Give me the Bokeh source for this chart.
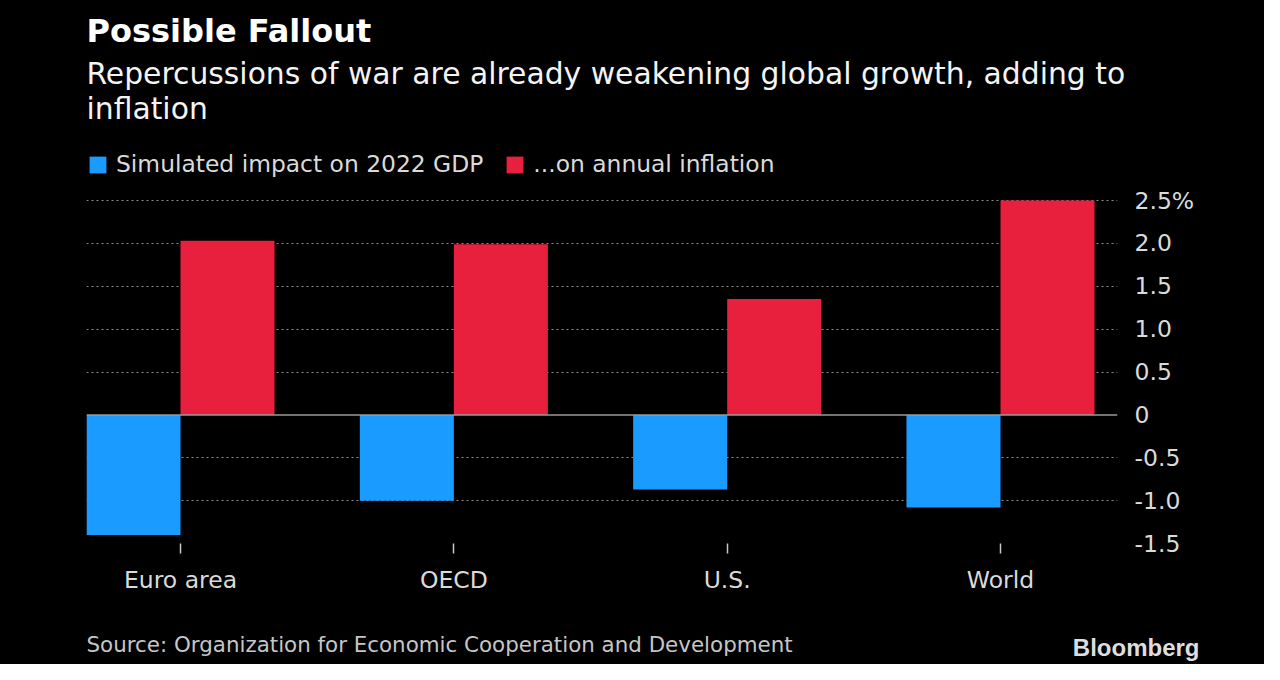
from bokeh.plotting import figure
from bokeh.models import (ColumnDataSource, Range1d, LinearAxis, FixedTicker, Span, Label,
                          Legend, LegendItem, Grid)
from bokeh.layouts import column
from bokeh.embed import file_html
from bokeh.resources import INLINE

# ---- data ----
categories = ["Euro area", "OECD", "U.S.", "World"]
gdp_impact = [-1.40, -1.00, -0.87, -1.08]
inflation_impact = [2.03, 1.99, 1.35, 2.50]
y_ticks = [-1.5, -1.0, -0.5, 0.0, 0.5, 1.0, 1.5, 2.0, 2.5]
y_tick_labels = ["-1.5", "-1.0", "-0.5", "0", "0.5", "1.0", "1.5", "2.0", "2.5%"]

title_text = "Possible Fallout"
subtitle_lines = ["Repercussions of war are already weakening global growth, adding to", "inflation"]
legend_labels = ["Simulated impact on 2022 GDP", "...on annual inflation"]
source_text = "Source: Organization for Economic Cooperation and Development"
brand_text = "Bloomberg"

BLUE = "#1a9bff"
RED = "#e8203e"
FONT = "DejaVu Sans"
TXT = "#dadada"
BLACK_BG = {"background-color": "black"}

W = 0.344
FIG_W = 1264
HEAD_H = 140
MAIN_H = 480
FOOT_H = 44
TXT_SHIFT = 10  # measured vertical offset of Label text in this renderer

# main frame (px, within main figure): left 86, right 1117, top 0, bottom 403
FRAME_B = 403
PX_PER_UNIT = (543 - 200) / 4.0
y_end = 2.5 + (200 - HEAD_H) / PX_PER_UNIT


def pixel_figure(h):
    fig = figure(width=FIG_W, height=h, output_backend="svg", toolbar_location=None,
                 x_range=Range1d(0, FIG_W), y_range=Range1d(0, h),
                 x_axis_type=None, y_axis_type=None, frame_align=False,
                 min_border_left=0, min_border_right=0, min_border_top=0, min_border_bottom=0,
                 background_fill_color="black", border_fill_color="black", styles=BLACK_BG)
    fig.outline_line_color = None
    fig.grid.visible = False
    return fig


# header
hdr = pixel_figure(HEAD_H)
hdr.add_layout(Label(x=86, y=HEAD_H - (40 - TXT_SHIFT), text=title_text,
                     text_font=FONT, text_font_style="bold", text_font_size="32px",
                     text_color="white", text_baseline="alphabetic"))
hdr.add_layout(Label(x=86, y=HEAD_H - (83 - TXT_SHIFT), text=subtitle_lines[0],
                     text_font=FONT, text_font_size="29.8px", text_color="#f4f4f4",
                     text_baseline="alphabetic"))
hdr.add_layout(Label(x=86, y=HEAD_H - (118 - TXT_SHIFT), text=subtitle_lines[1],
                     text_font=FONT, text_font_size="29.8px", text_color="#f4f4f4",
                     text_baseline="alphabetic"))

# main chart
idx = list(range(len(categories)))
src = ColumnDataSource(dict(
    x_gdp=[i - W / 2 for i in idx],
    x_inf=[i + W / 2 for i in idx],
    gdp=gdp_impact,
    inf=inflation_impact,
))

p = figure(width=FIG_W, height=MAIN_H, output_backend="svg", toolbar_location=None,
           x_range=Range1d(-W, 3.428), y_range=Range1d(-1.5, y_end),
           min_border_left=86, min_border_right=FIG_W - 1117, min_border_top=0,
           min_border_bottom=MAIN_H - FRAME_B, frame_align=False,
           background_fill_color="black", border_fill_color="black",
           y_axis_location=None, styles=BLACK_BG)
p.outline_line_color = None

r_gdp = p.vbar(x="x_gdp", top="gdp", bottom=0, width=W, source=src, fill_color=BLUE, line_color=None)
r_inf = p.vbar(x="x_inf", top="inf", bottom=0, width=W, source=src, fill_color=RED, line_color=None)

xa = p.xaxis[0]
xa.ticker = FixedTicker(ticks=idx)
xa.major_label_overrides = {i: c for i, c in zip(idx, categories)}
xa.axis_line_color = None
xa.major_tick_in = 0
xa.major_tick_out = 10
xa.major_tick_line_color = "#c8c8c8"
xa.major_tick_line_width = 1.5
xa.minor_tick_line_color = None
xa.major_label_standoff = 12
xa.major_label_text_font = FONT
xa.major_label_text_font_size = "23.5px"
xa.major_label_text_color = TXT

ya = LinearAxis(ticker=FixedTicker(ticks=y_ticks))
ya.major_label_overrides = {t: l for t, l in zip(y_ticks, y_tick_labels)}
ya.axis_line_color = None
ya.major_tick_line_color = None
ya.minor_tick_line_color = None
ya.major_tick_out = 0
ya.major_tick_in = 0
ya.major_label_standoff = 17
ya.major_label_text_font = FONT
ya.major_label_text_font_size = "23.5px"
ya.major_label_text_color = TXT
p.add_layout(ya, "right")

p.xgrid.grid_line_color = None
p.ygrid.grid_line_color = None
g = Grid(dimension=1, ticker=FixedTicker(ticks=[t for t in y_ticks if t not in (-1.5, 0.0)]),
         grid_line_color="#8c8c8c", grid_line_dash="2 3", grid_line_width=1.2)
p.add_layout(g)

p.add_layout(Span(location=0, dimension="width", line_color="#9a9a9a", line_width=1.5))

legend = Legend(items=[LegendItem(label=legend_labels[0], renderers=[r_gdp]),
                       LegendItem(label=legend_labels[1], renderers=[r_inf])],
                orientation="horizontal", location=(1, 543 - 178),
                glyph_width=21, glyph_height=21, label_standoff=8, spacing=21,
                padding=0, margin=0, border_line_color=None, background_fill_alpha=0,
                label_text_font=FONT, label_text_font_size="23.4px", label_text_color=TXT,
                label_height=17)
p.add_layout(legend)

# footer
ftr = pixel_figure(FOOT_H)
ftr.add_layout(Label(x=86, y=FOOT_H - (654 - TXT_SHIFT - HEAD_H - MAIN_H), text=source_text,
                     text_font=FONT, text_font_size="21.4px", text_color="#c6c6c6",
                     text_baseline="alphabetic"))
ftr.add_layout(Label(x=1199, y=FOOT_H - (657 - TXT_SHIFT - HEAD_H - MAIN_H), text=brand_text,
                     text_font="Liberation Sans", text_font_style="bold", text_font_size="24px",
                     text_color="#dedede", text_baseline="alphabetic", text_align="right"))

layout = column(hdr, p, ftr, spacing=0, styles=BLACK_BG)
open("out.html", "w").write(file_html(layout, INLINE))
